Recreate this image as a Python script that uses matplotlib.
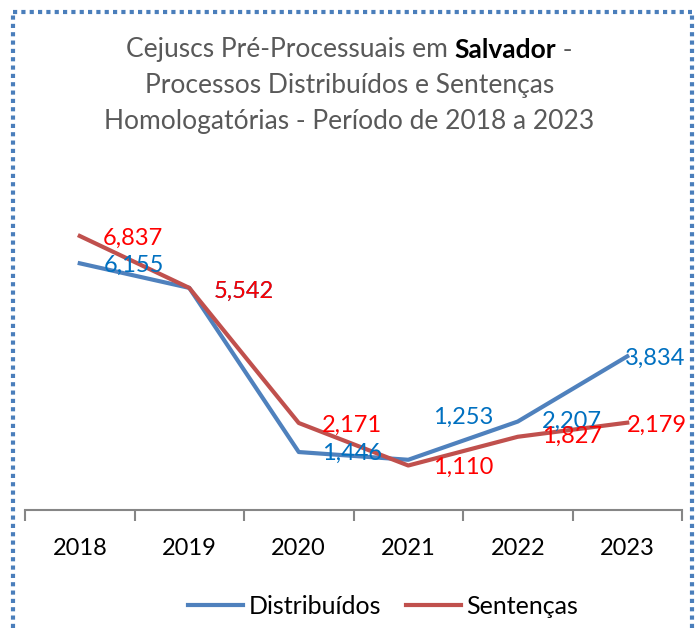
import matplotlib.pyplot as plt
from matplotlib.lines import Line2D

years = ["2018", "2019", "2020", "2021", "2022", "2023"]
distribuidos = [6155, 5542, 1446, 1253, 2207, 3834]
sentencas = [6837, 5542, 2171, 1110, 1827, 2179]

# label offsets in pixels (dx, dy) relative to each point
dist_offsets = [(24, -2), (24, -3), (23, -1), (25, 42), (24, 0), (-2, -2)]
sent_offsets = [(23, -2), (24, -3), (23, -2), (25, -2), (24, 0), (0, -3)]

BLUE = "#4F81BD"
RED = "#C0504D"
BLUE_TXT = "#0070C0"
RED_TXT = "#FF0000"
FONT = "Lato"
FS = 17
TFS = 19

plt.rcParams['font.family'] = [FONT, 'DejaVu Sans']

W, H = 699, 628
fig = plt.figure(figsize=(W / 100, H / 100), dpi=100)

ax = fig.add_axes([25 / W, 118 / H, 657 / W, 310 / H])
x = list(range(len(years)))
ax.plot(x, distribuidos, color=BLUE, lw=3, solid_joinstyle='round', label='Distribuídos', zorder=3)
ax.plot(x, sentencas, color=RED, lw=3, solid_joinstyle='round', label='Sentenças', zorder=3)

for i, v in enumerate(distribuidos):
    dx, dy = dist_offsets[i]
    ax.annotate(f"{v:,}", (i, v), xytext=(dx, dy), textcoords='offset pixels',
                ha='left', va='center', color=BLUE_TXT, fontsize=FS, zorder=4)
for i, v in enumerate(sentencas):
    dx, dy = sent_offsets[i]
    ax.annotate(f"{v:,}", (i, v), xytext=(dx, dy), textcoords='offset pixels',
                ha='left', va='center', color=RED_TXT, fontsize=FS, zorder=5)

ax.set_xlim(-0.5, len(years) - 0.5)
ax.set_ylim(0, 310 / 0.04008)
for s in ['top', 'right', 'left']:
    ax.spines[s].set_visible(False)
ax.spines['bottom'].set_color('#868686')
ax.spines['bottom'].set_linewidth(1.5)
ax.set_yticks([])
ax.set_xticks(x)
ax.set_xticklabels(years, fontsize=FS, color='black')
ax.tick_params(axis='x', which='major', length=0, pad=20)
ax.set_xticks([i - 0.5 for i in range(len(years) + 1)], minor=True)
ax.tick_params(axis='x', which='minor', length=8, width=1.5, color='#868686', direction='out')

# title
TCOL = '#595959'
fig.text(0.5, 1 - 86 / H, "Processos Distribuídos e Sentenças", ha='center', va='center',
         fontsize=TFS, color=TCOL)
fig.text(0.5, 1 - 121 / H, "Homologatórias - Período de 2018 a 2023", ha='center', va='center',
         fontsize=TFS, color=TCOL)

renderer = fig.canvas.get_renderer()
parts = [("Cejuscs Pré-Processuais em ", TCOL, 'normal'),
         ("Salvador", 'black', 'bold'),
         (" -", TCOL, 'normal')]
texts = []
for s, c, w in parts:
    t = fig.text(0, 1 - 50 / H, s, ha='left', va='center', fontsize=TFS, color=c, fontweight=w)
    texts.append(t)
widths = [t.get_window_extent(renderer).width for t in texts]
xpos = W / 2 - sum(widths) / 2
for t, w in zip(texts, widths):
    t.set_x(xpos / W)
    xpos += w

# legend
handles = [Line2D([], [], color=BLUE, lw=3), Line2D([], [], color=RED, lw=3)]
fig.legend(handles, ['Distribuídos', 'Sentenças'], loc='center', bbox_to_anchor=(383 / W, 1 - 606 / H),
           ncol=2, frameon=False, fontsize=18, handlelength=2.2, handletextpad=0.2, columnspacing=1.0)

# dotted border
bc = '#4A7EBB'
kw = dict(color=bc, lw=3, linestyle=(0, (1, 1)), transform=fig.transFigure)
fig.add_artist(Line2D([13 / W, 13 / W], [0, 1 - 12 / H], **kw))
fig.add_artist(Line2D([13 / W, 692 / W], [1 - 12 / H, 1 - 12 / H], **kw))
fig.add_artist(Line2D([692 / W, 692 / W], [0, 1 - 12 / H], **kw))

fig.savefig("out.png", dpi=100)
